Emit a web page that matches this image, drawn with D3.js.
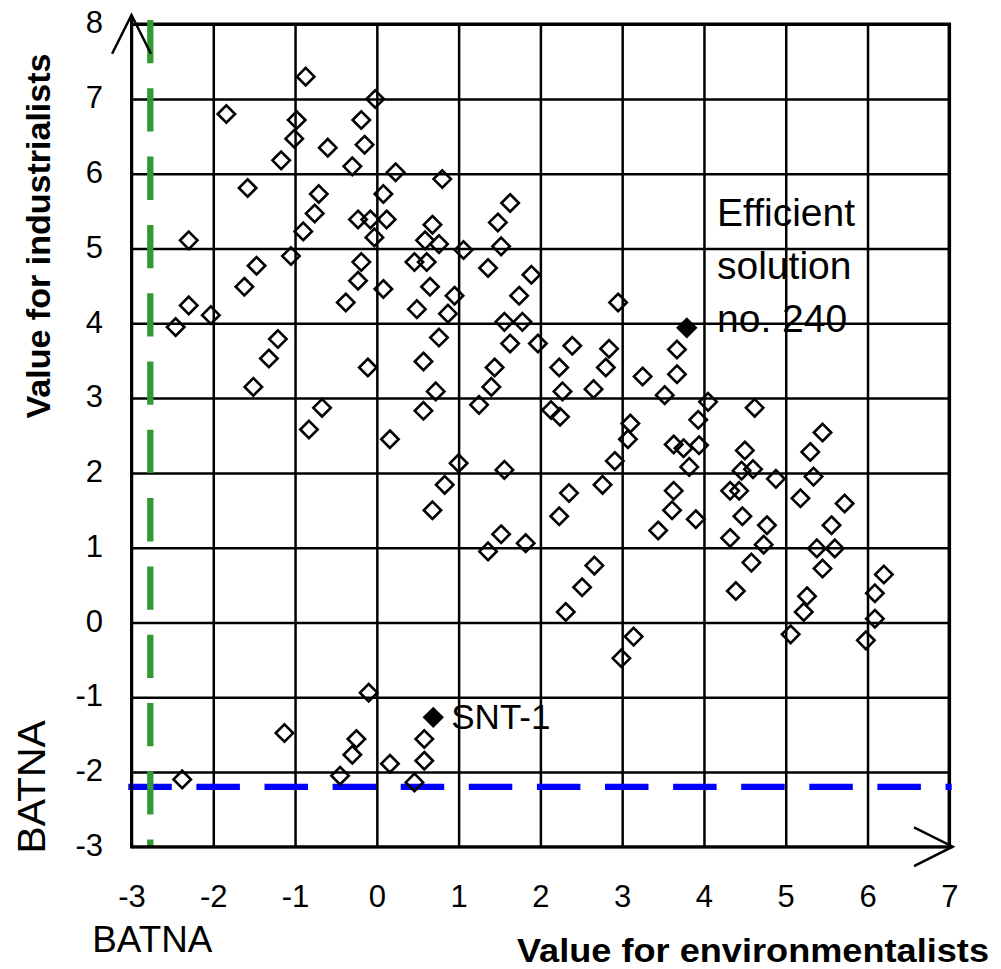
<!DOCTYPE html>
<html>
<head>
<meta charset="utf-8">
<style>
body { margin: 0; background: #fff; }
svg { display: block; background: #fff; font-family: Arial, "Liberation Sans", sans-serif; }
</style>
</head>
<body>
<svg width="1001" height="969"></svg>
<script src="https://d3js.org/d3.v7.min.js"></script>
<script>
// solutions: value for environmentalists (x) and for industrialists (y)
var envValues = [
  -0.87, -0.02, -1.84, -0.98, -0.19, -1.01, -0.60, -0.15, -1.17, -0.30, 0.23, -1.58, -0.71, 0.08,
  -0.76, -0.23, -0.08, 0.12, -0.90, -0.03, -2.30, -1.05, -0.19, 0.46, -1.47, -0.23, -1.62, 0.08,
  -2.30, -2.03, -2.46, -0.38, 0.49, -1.21, -1.32, -1.51, -0.11, -0.67, -0.83, 0.16,
  0.80, 1.63, 1.48, 0.68, 0.59, 0.76, 1.06, 1.52, 0.61, 1.36, 1.89, 0.65, 0.95, 1.74,
  0.87, 2.95, 1.56, 1.78, 0.76, 1.63, 1.97, 2.39, 2.84, 0.57, 1.44, 2.23, 2.80, 3.25, 0.72,
  1.40, 2.27, 2.65, 3.52, 0.57, 1.25, 2.13, 2.24, 3.10, 3.07, 1.00, 1.56, 2.91, 0.83, 0.68,
  2.35, 2.76, 2.23, 3.44, 1.52, 1.82, 1.36,
  3.67, 3.67, 4.05, 4.62, 3.93, 3.63, 3.75, 3.94, 3.82, 4.50, 4.46, 4.60, 4.88, 5.45, 5.30,
  5.34, 3.63, 4.32, 4.43, 3.61, 3.90, 4.47, 5.18, 5.72, 4.32, 4.77, 4.73, 5.56, 5.38, 5.60,
  4.58, 5.45, 6.20, 4.39, 6.09, 5.26, 5.22, 6.09, 5.06, 5.98,
  2.66, 2.51, 2.31, 3.14, 2.99, 0.58, 0.58, 0.46,
  -0.10, -1.13, -0.25, -0.30, 0.16, -0.45, -2.38
];
var indValues = [
  7.30, 7.00, 6.80, 6.72, 6.72, 6.47, 6.35, 6.39, 6.18, 6.10, 6.02, 5.81, 5.73, 5.73,
  5.47, 5.39, 5.39, 5.39, 5.23, 5.15, 5.11, 4.90, 4.82, 4.82, 4.77, 4.57, 4.49, 4.46,
  4.24, 4.11, 3.95, 4.28, 4.19, 3.79, 3.53, 3.15, 3.41, 2.87, 2.58, 2.45,
  5.93, 5.61, 5.35, 5.32, 5.11, 5.06, 4.98, 5.03, 4.82, 4.74, 4.65, 4.49, 4.37, 4.37,
  4.13, 4.28, 4.02, 4.02, 3.81, 3.73, 3.73, 3.70, 3.66, 3.49, 3.41, 3.41, 3.41, 3.29, 3.09,
  3.15, 3.09, 3.12, 3.04, 2.83, 2.91, 2.84, 2.75, 2.66, 2.45, 2.13, 2.04, 2.16, 1.84, 1.50,
  1.73, 1.84, 1.42, 1.23, 1.18, 1.06, 0.95,
  3.65, 3.32, 2.95, 2.87, 2.71, 2.38, 2.33, 2.37, 2.08, 2.30, 2.03, 2.05, 1.92, 2.54, 2.28,
  1.95, 1.76, 1.76, 1.76, 1.50, 1.38, 1.42, 1.66, 1.59, 1.13, 1.30, 1.04, 1.30, 0.99, 0.99,
  0.80, 0.72, 0.64, 0.42, 0.39, 0.35, 0.14, 0.05, -0.16, -0.24,
  0.76, 0.47, 0.14, -0.19, -0.48, -1.56, -1.85, -2.14,
  -0.94, -1.48, -1.56, -1.77, -1.89, -2.05, -2.10
];

// highlighted solutions
var markedNames = ["SNT-1", "Efficient solution no. 240"];
var markedEnv = [0.69, 3.79];
var markedInd = [-1.27, 3.94];

// BATNA of each party
var batnaEnv = -2.77,
    batnaInd = -2.2;

var xTicks = d3.range(-3, 8),
    yTicks = d3.range(-3, 9);

var svg = d3.select("svg"),
    plot = {left: 131.5, right: 949.3, top: 24.3, bottom: 846.7};

var x = d3.scaleLinear().domain([-3, 7]).range([plot.left, plot.right]),
    y = d3.scaleLinear().domain([-3, 8]).range([plot.bottom, plot.top]);

// grid + tick labels
var gx = svg.append("g")
    .attr("transform", "translate(0," + plot.bottom + ")")
    .call(d3.axisBottom(x).tickValues(xTicks).tickSize(-(plot.bottom - plot.top)).tickPadding(38.3)
        .tickFormat(function(d) { return String(d); }));
var gy = svg.append("g")
    .attr("transform", "translate(" + plot.left + ",0)")
    .call(d3.axisLeft(y).tickValues(yTicks).tickSize(-(plot.right - plot.left)).tickPadding(28.5)
        .tickFormat(function(d) { return String(d); }));

[gx, gy].forEach(function(g) {
    g.attr("font-family", null).attr("font-size", 31);
    g.select(".domain").remove();
    g.selectAll(".tick line").attr("stroke", "#000").attr("stroke-width", 2.5);
    g.selectAll(".tick text").attr("fill", "#000");
});
gy.selectAll(".tick text").attr("dy", "0.28em");

// border on top / right
svg.append("path")
    .attr("d", "M" + plot.left + "," + plot.top + "H" + plot.right + "V" + plot.bottom)
    .attr("fill", "none").attr("stroke", "#000").attr("stroke-width", 3.5);

// BATNA lines
svg.append("line")
    .attr("x1", x(-3) - 3.2).attr("x2", x(7) + 2.4)
    .attr("y1", y(batnaInd)).attr("y2", y(batnaInd))
    .attr("stroke", "#0000ff").attr("stroke-width", 6.3)
    .attr("stroke-dasharray", "43.5,24.6");
svg.append("line")
    .attr("x1", x(batnaEnv)).attr("x2", x(batnaEnv))
    .attr("y1", y(8) - 4.3).attr("y2", y(-3) + 1.3)
    .attr("stroke", "#339933").attr("stroke-width", 6.3)
    .attr("stroke-dasharray", "43.3,25");

// axes with arrows
var axes = svg.append("g").attr("fill", "none").attr("stroke", "#000");
axes.append("line")
    .attr("x1", x(-3)).attr("x2", x(-3)).attr("y1", plot.bottom + 1.5).attr("y2", plot.top - 9)
    .attr("stroke-width", 3);
axes.append("line")
    .attr("x1", x(-3) - 1.5).attr("x2", plot.right + 3.4).attr("y1", plot.bottom).attr("y2", plot.bottom)
    .attr("stroke-width", 3);
axes.append("polyline")
    .attr("points", [[x(-3) - 19.4, plot.top + 29.5], [x(-3), plot.top - 9.3], [x(-3) + 19.4, plot.top + 29.5]].join(" "))
    .attr("stroke-width", 2.5);
axes.append("polyline")
    .attr("points", [[plot.right - 35.3, plot.bottom - 19.4], [plot.right + 3.4, plot.bottom], [plot.right - 35.3, plot.bottom + 19.4]].join(" "))
    .attr("stroke-width", 2.5);

// hollow diamonds
function diamond(r) { return "M0," + (-r) + "L" + r + ",0L0," + r + "L" + (-r) + ",0Z"; }

svg.append("g").selectAll("path")
    .data(d3.range(envValues.length))
    .enter().append("path")
    .attr("transform", function(i) { return "translate(" + x(envValues[i]) + "," + y(indValues[i]) + ")"; })
    .attr("d", diamond(8.7))
    .attr("fill", "none")
    .attr("stroke", "#000")
    .attr("stroke-width", 2.6);

// marked solutions
svg.append("g").selectAll("path")
    .data(markedNames)
    .enter().append("path")
    .attr("transform", function(d, i) { return "translate(" + x(markedEnv[i]) + "," + y(markedInd[i]) + ")"; })
    .attr("d", diamond(10.7))
    .attr("fill", "#000");

// annotations
svg.append("text")
    .attr("x", x(markedEnv[0]) + 18).attr("y", y(markedInd[0]) + 12)
    .attr("font-size", 35).text(markedNames[0]);

var eff = svg.append("text").attr("font-size", 39).attr("x", 717);
eff.append("tspan").attr("x", 717).attr("y", 226).text("Efficient");
eff.append("tspan").attr("x", 717).attr("y", 279).text("solution");
eff.append("tspan").attr("x", 717).attr("y", 331.7).text("no. 240");

svg.append("text")
    .attr("x", x(batnaEnv) + 2).attr("y", 952)
    .attr("text-anchor", "middle").attr("font-size", 37)
    .attr("textLength", 120).attr("lengthAdjust", "spacingAndGlyphs")
    .text("BATNA");
svg.append("text")
    .attr("transform", "translate(45," + y(batnaInd) + ") rotate(-90)")
    .attr("text-anchor", "middle").attr("font-size", 39)
    .attr("textLength", 133).attr("lengthAdjust", "spacingAndGlyphs")
    .text("BATNA");

// axis titles
svg.append("text")
    .attr("x", 753).attr("y", 962)
    .attr("text-anchor", "middle").attr("font-size", 33).attr("font-weight", "bold")
    .attr("textLength", 472).attr("lengthAdjust", "spacingAndGlyphs")
    .text("Value for environmentalists");
svg.append("text")
    .attr("transform", "translate(50,236) rotate(-90)")
    .attr("text-anchor", "middle").attr("font-size", 33).attr("font-weight", "bold")
    .attr("textLength", 365).attr("lengthAdjust", "spacingAndGlyphs")
    .text("Value for industrialists");
</script>
</body>
</html>
